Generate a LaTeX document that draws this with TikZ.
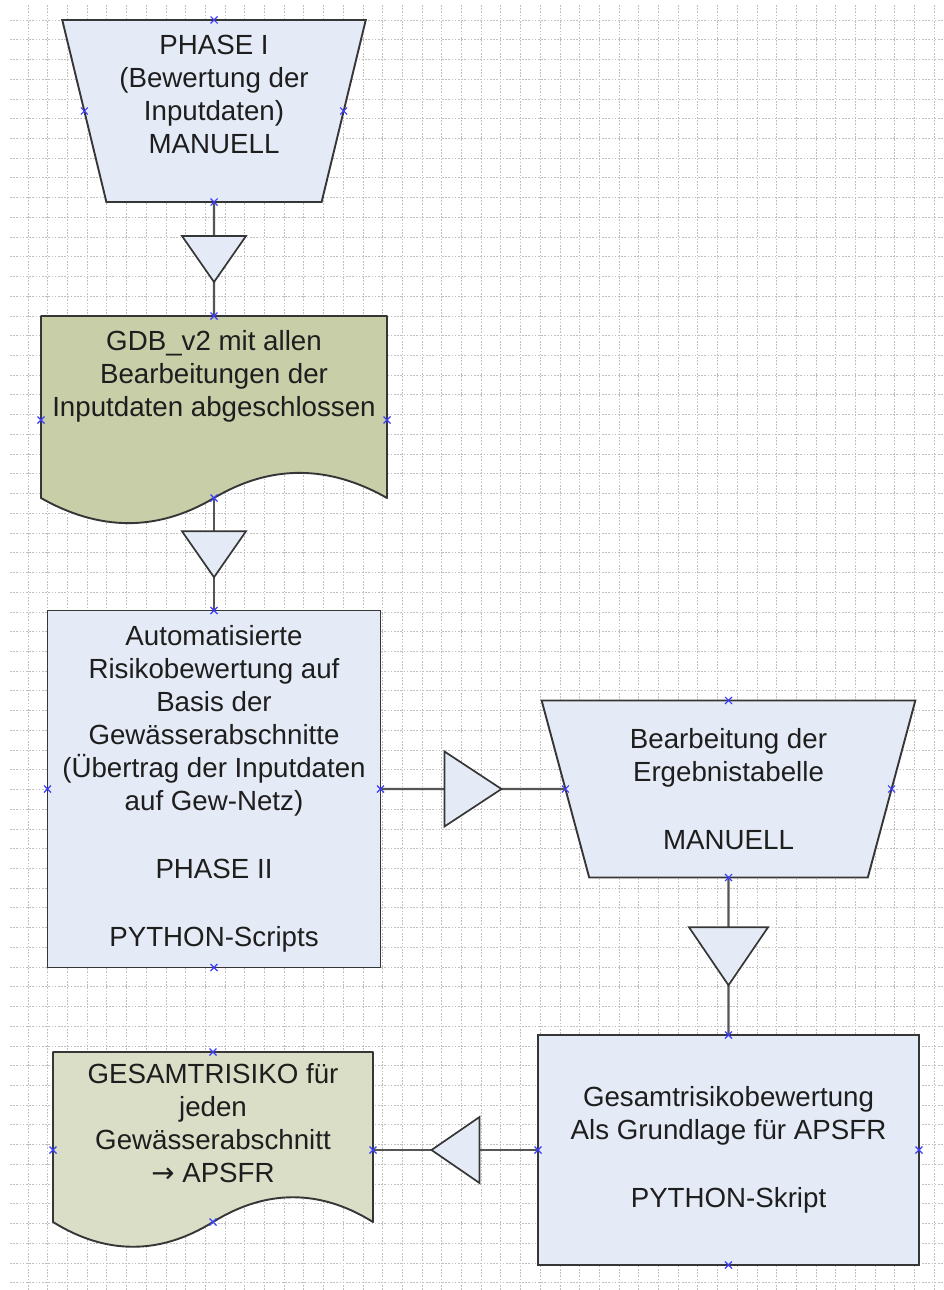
\documentclass[tikz,border=0pt]{standalone}
\usepackage{fontspec}
\setmainfont{Liberation Sans}
\newfontfamily\arrowfont{DejaVu Sans}
\usetikzlibrary{shapes.geometric,calc,backgrounds}

\definecolor{procblue}{HTML}{E5EBF6}
\definecolor{docgreen}{HTML}{C7CEA8}
\definecolor{docpale}{HTML}{DADEC7}
\definecolor{edgegray}{HTML}{363636}
\definecolor{linegray}{HTML}{555555}
\definecolor{gridgray}{HTML}{C0C0C0}
\definecolor{cptblue}{HTML}{3C3CFF}
\definecolor{textdark}{HTML}{1E1E1E}

% text block hanging from the top of a fixed-height box
\newcommand{\topbox}[3]{\parbox[c][#1][t]{#2}{\centering #3}}

\tikzset{
  procbox/.style={rectangle, draw=edgegray, fill=procblue, line width=1.9pt,
    inner sep=0pt, outer sep=0pt, align=center},
  manualbox/.style={trapezium, shape border rotate=180, trapezium stretches=true,
    draw=edgegray, fill=procblue, line width=1.9pt, inner sep=0pt, outer sep=0pt,
    align=center},
  docbox/.style={rectangle, inner sep=0pt, outer sep=0pt},
  docline/.style={draw=edgegray, line width=1.9pt, line join=round},
  flowline/.style={draw=linegray, line width=2.2pt},
  mergetri/.style={draw=edgegray, fill=procblue, line width=1.7pt},
  gridline/.style={gridgray, line width=0.8pt, dash pattern=on 1.6pt off 1.6pt},
  cpt/.style={cptblue, line width=1.1pt}
}

\begin{document}
\begin{tikzpicture}[x=1pt, y=-1pt,
    every node/.append style={font=\fontsize{27.7}{33}\selectfont, text=textdark}]

  \useasboundingbox (0,0) rectangle (944,1290);

  % shapes
  \node[manualbox, minimum width=304pt, minimum height=182pt, trapezium angle=74.9]
    (phase1) at (214,111)
    {\topbox{152pt}{200pt}{PHASE I\\(Bewertung der\\Inputdaten)\\MANUELL}};
  \node[docbox, minimum width=346pt, minimum height=208pt] (gdb) at (214,420)
    {\topbox{180pt}{340pt}{GDB\_v2 mit allen\\Bearbeitungen der\\Inputdaten abgeschlossen}};
  \node[procbox, minimum width=333pt, minimum height=357pt] (auto) at (214,789)
    {Automatisierte\\Risikobewertung auf\\Basis der\\Gewässerabschnitte\\(Übertrag der Inputdaten\\auf Gew-Netz)\\[35pt]PHASE II\\[35pt]PYTHON-Scripts};
  \node[manualbox, minimum width=375pt, minimum height=177pt, trapezium angle=74.5]
    (edit) at (728.5,789)
    {Bearbeitung der\\Ergebnistabelle\\[35pt]MANUELL};
  \node[procbox, minimum width=381pt, minimum height=230pt] (final) at (728.5,1150)
    {Gesamtrisikobewertung\\Als Grundlage für APSFR\\[35pt]PYTHON-Skript};
  \node[docbox, minimum width=320pt, minimum height=196pt] (result) at (213,1150)
    {\topbox{174pt}{316pt}{GESAMTRISIKO für\\jeden\\Gewässerabschnitt\\{\arrowfont →} APSFR}};

  \coordinate (gdb-wave) at ($(gdb.south)+(0,-26)$);
  \coordinate (result-wave) at ($(result.south)+(0,-26)$);

  \begin{scope}[on background layer]
    \fill[white] (0,0) rectangle (944,1290);
    \foreach \gx in {0,...,46}
      \draw[gridline] (28+19.7*\gx,5) -- (28+19.7*\gx,1290);
    \foreach \gy in {0,...,64}
      \draw[gridline] (10,20+19.73*\gy) -- (944,20+19.73*\gy);

    % document outlines
    \draw[docline, fill=docgreen] (gdb.north west) -- (gdb.north east)
      -- ($(gdb.south east)+(0,-26)$) .. controls +(-58,-33) and +(57,-34) .. (gdb-wave)
      .. controls +(-57,34) and +(58,33) .. ($(gdb.south west)+(0,-26)$) -- cycle;
    \draw[docline, fill=docpale] (result.north west) -- (result.north east)
      -- ($(result.south east)+(0,-26)$) .. controls +(-53,-33) and +(53,-33) .. (result-wave)
      .. controls +(-53,33) and +(53,33) .. ($(result.south west)+(0,-26)$) -- cycle;

    % connectors
    \draw[flowline] (phase1.south) -- (gdb.north);
    \draw[flowline] (gdb-wave) -- (auto.north);
    \draw[flowline] (auto.east) -- (edit.west);
    \draw[flowline] (edit.south) -- (final.north);
    \draw[flowline] (final.west) -- (result.east);
  \end{scope}

  % merge triangles on the connectors
  \path (phase1.south) -- coordinate[pos=.5] (m1) (gdb.north);
  \path (gdb-wave) -- coordinate[pos=.5] (m2) (auto.north);
  \path (auto.east) -- coordinate[pos=.5] (m3) (edit.west);
  \path (edit.south) -- coordinate[pos=.5] (m4) (final.north);
  \path (final.west) -- coordinate[pos=.5] (m5) (result.east);

  \draw[mergetri] ($(m1)+(-32,-23)$) -- ++(64,0) -- ($(m1)+(0,23)$) -- cycle;
  \draw[mergetri] ($(m2)+(-32,-23)$) -- ++(64,0) -- ($(m2)+(0,23)$) -- cycle;
  \draw[mergetri] ($(m3)+(-28.5,-37.5)$) -- ++(0,75) -- ($(m3)+(28.5,0)$) -- cycle;
  \draw[mergetri] ($(m4)+(-39.5,-29)$) -- ++(79,0) -- ($(m4)+(0,29)$) -- cycle;
  \draw[mergetri] ($(m5)+(24,-33)$) -- ++(0,66) -- ($(m5)+(-24,0)$) -- cycle;

  % connection points
  \foreach \p in {phase1.north, phase1.west, phase1.east, phase1.south,
                  gdb.north, gdb.west, gdb.east, gdb-wave,
                  auto.north, auto.west, auto.east, auto.south,
                  edit.north, edit.west, edit.east, edit.south,
                  final.north, final.west, final.east, final.south,
                  result.north, result.west, result.east, result-wave}
    \draw[cpt] (\p) +(-3.5,-3.5) -- +(3.5,3.5) +(-3.5,3.5) -- +(3.5,-3.5);

\end{tikzpicture}
\end{document}
